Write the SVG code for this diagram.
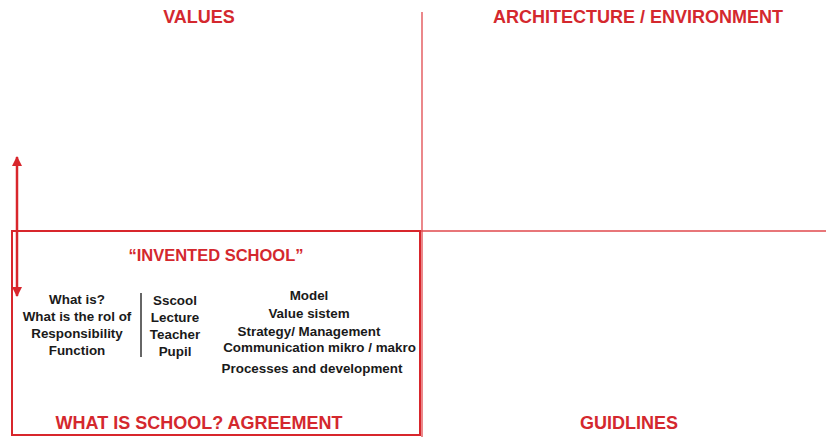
<svg xmlns="http://www.w3.org/2000/svg" width="839" height="437" viewBox="0 0 839 437">
<defs>
<style>
.h{font-family:"Liberation Sans",Arial,sans-serif;font-weight:bold;fill:#d4282e;font-size:18px;text-anchor:middle}
.t{font-family:"Liberation Sans",Arial,sans-serif;font-weight:bold;fill:#1a1a1a;font-size:13.4px;text-anchor:middle}
.thin{stroke:#e0484c;stroke-width:1.3;fill:none}
.box{stroke:#d8262c;stroke-width:2;fill:none}
</style>
<marker id="ah" viewBox="0 0 10 10" refX="9" refY="5" markerWidth="4.5" markerHeight="4" orient="auto-start-reverse">
<path d="M0,0 L10,5 L0,10 z" fill="#d8262c"/>
</marker>
</defs>
<rect width="839" height="437" fill="#fff"/>
<g id="connectors">
<line class="thin" x1="422" y1="12" x2="422" y2="437"/>
<line class="thin" x1="12" y1="231" x2="826" y2="231"/>
<line stroke="#d8262c" stroke-width="2.5" x1="17" y1="157" x2="17" y2="296" marker-start="url(#ah)" marker-end="url(#ah)"/>
<line stroke="#333" stroke-width="1.5" x1="141" y1="293" x2="141" y2="357"/>
</g>
<g id="values"><text class="h" x="199" y="23">VALUES</text></g>
<g id="architecture"><text class="h" x="638" y="23">ARCHITECTURE / ENVIRONMENT</text></g>
<g id="invented-school">
<rect class="box" x="12" y="231" width="408" height="204"/>
<text class="h" x="216" y="261" style="font-size:16.5px">“INVENTED SCHOOL”</text>
<text class="t" x="77" y="304">What is?</text>
<text class="t" x="77" y="321">What is the rol of</text>
<text class="t" x="77" y="338">Responsibility</text>
<text class="t" x="77" y="355">Function</text>
<text class="t" x="175" y="305">Sscool</text>
<text class="t" x="175" y="322">Lecture</text>
<text class="t" x="175" y="339">Teacher</text>
<text class="t" x="175" y="356">Pupil</text>
<text class="t" x="309" y="300">Model</text>
<text class="t" x="309" y="318">Value sistem</text>
<text class="t" x="309" y="336">Strategy/ Management</text>
<text class="t" x="319.5" y="352">Communication mikro / makro</text>
<text class="t" x="312" y="373">Processes and development</text>
<text class="h" x="199" y="429">WHAT IS SCHOOL? AGREEMENT</text>
</g>
<g id="guidlines"><text class="h" x="629" y="429">GUIDLINES</text></g>
</svg>
